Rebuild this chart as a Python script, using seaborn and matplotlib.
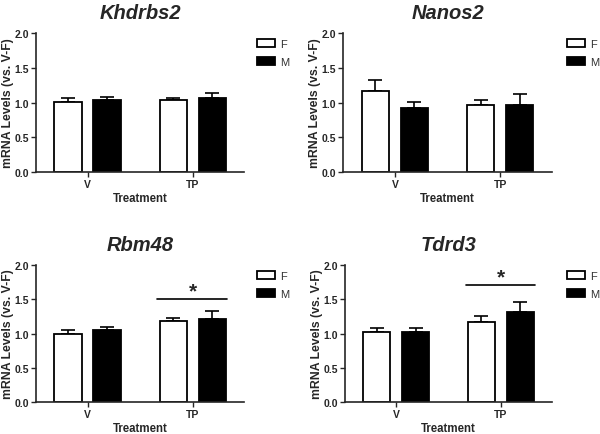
import matplotlib
matplotlib.use("Agg")
import matplotlib.pyplot as plt
import pandas as pd
import seaborn as sns

# values (order: V-F, V-M, TP-F, TP-M)
genes = ["Khdrbs2", "Nanos2", "Rbm48", "Tdrd3"]
treatments = ["V", "TP"]
sexes = ["F", "M"]

khdrbs2_mean = [1.01, 1.03, 1.04, 1.06]
khdrbs2_sem = [0.05, 0.05, 0.03, 0.07]
nanos2_mean = [1.16, 0.92, 0.97, 0.96]
nanos2_sem = [0.17, 0.09, 0.07, 0.16]
rbm48_mean = [0.99, 1.05, 1.18, 1.21]
rbm48_sem = [0.06, 0.04, 0.04, 0.12]
tdrd3_mean = [1.02, 1.02, 1.17, 1.31]
tdrd3_sem = [0.06, 0.06, 0.08, 0.15]

# significance bar over TP group (height of the line)
sig_level = {"Rbm48": 1.50, "Tdrd3": 1.70}

means = [khdrbs2_mean, nanos2_mean, rbm48_mean, tdrd3_mean]
sems = [khdrbs2_sem, nanos2_sem, rbm48_sem, tdrd3_sem]

sns.set_style("ticks")
plt.rcParams["font.family"] = ["Liberation Sans", "DejaVu Sans"]
plt.rcParams["axes.linewidth"] = 1.2

fig = plt.figure(figsize=(6, 4.35), dpi=100)
positions = [
    [0.060, 0.602, 0.347, 0.320],
    [0.572, 0.602, 0.348, 0.320],
    [0.060, 0.073, 0.347, 0.316],
    [0.575, 0.073, 0.345, 0.316],
]
legend_x = [1.037, 1.045, 1.037, 1.045]

for gene, mean, sem, pos, lx in zip(genes, means, sems, positions, legend_x):
    ax = fig.add_axes(pos)
    rows = []
    i = 0
    for t in treatments:
        for s in sexes:
            rows.append({"Treatment": t, "Sex": s, "Level": mean[i], "SEM": sem[i]})
            i += 1
    df = pd.DataFrame(rows)

    sns.barplot(data=df, x="Treatment", y="Level", hue="Sex", order=treatments,
                hue_order=sexes, palette={"F": "white", "M": "black"},
                edgecolor="black", linewidth=1.3, width=0.74, gap=0.3,
                errorbar=None, ax=ax, zorder=2)

    # upper-only SEM error bars on each bar
    for container, s in zip(ax.containers, sexes):
        for bar, t in zip(container, treatments):
            e = df[(df.Sex == s) & (df.Treatment == t)]["SEM"].iloc[0]
            x = bar.get_x() + bar.get_width() / 2
            ax.errorbar(x, bar.get_height(), yerr=[[0], [e]], fmt="none",
                        ecolor="black", elinewidth=1.2, capsize=5, capthick=1.2,
                        zorder=1)

    if gene in sig_level:
        y = sig_level[gene]
        ax.plot([0.665, 1.33], [y, y], color="black", lw=1.2)
        ax.text(1.0, y + 0.12, "*", ha="center", va="center",
                fontsize=15, fontweight="bold")

    ax.set_xlim(-0.49, 1.49)
    ax.set_ylim(0, 2.0)
    ax.set_yticks([0, 0.5, 1.0, 1.5, 2.0])
    ax.set_yticklabels(["0.0", "0.5", "1.0", "1.5", "2.0"])
    sns.despine(ax=ax)
    ax.tick_params(axis="both", labelsize=7.5, width=1.0, length=3.5, pad=1.5)
    for lbl in ax.get_xticklabels() + ax.get_yticklabels():
        lbl.set_fontweight("bold")
    ax.set_xlabel("Treatment", fontsize=8.3, fontweight="bold", labelpad=2)
    ax.set_ylabel("mRNA Levels (vs. V-F)", fontsize=8.8, fontweight="bold", labelpad=0.5)
    ax.set_title(gene, fontsize=14.5, fontweight="bold", style="italic", pad=11)

    sns.move_legend(ax, "upper left", bbox_to_anchor=(lx, 0.995), frameon=False,
                    title=None, fontsize=8, borderpad=0, handlelength=1.6,
                    handleheight=0.7, handletextpad=0.45, labelspacing=0.7,
                    labelcolor="#333333")
    for h in ax.get_legend().legend_handles:
        h.set_edgecolor("black")
        h.set_linewidth(1.3)

fig.savefig("out.png", dpi=100)
